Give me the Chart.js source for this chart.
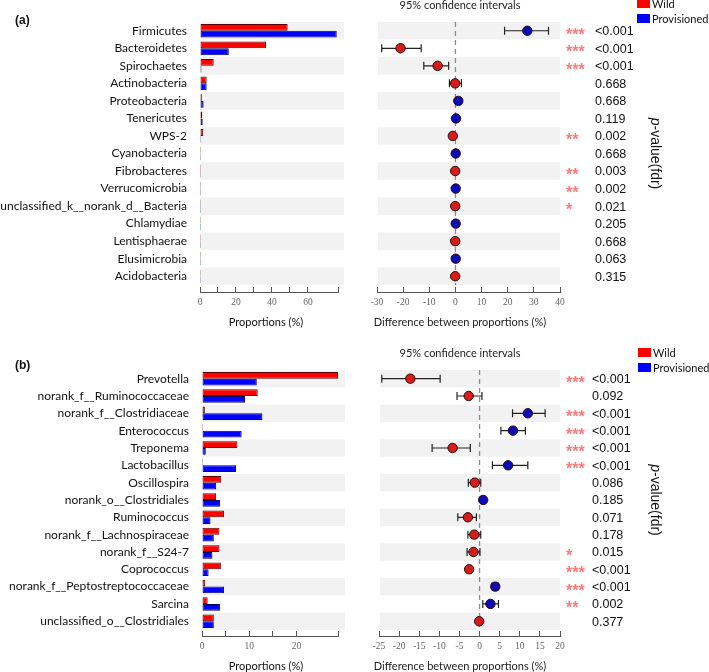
<!DOCTYPE html>
<html>
<head>
<meta charset="utf-8">
<title>Wild vs provisioned - extended error bar plots</title>
<script src="https://cdn.jsdelivr.net/npm/chart.js@4.4.1/dist/chart.umd.min.js"></script>
<style>
  html, body { margin: 0; padding: 0; background: #fff; }
  body { position: relative; width: 709px; height: 672px; overflow: hidden; }
  canvas { position: absolute; }
</style>
</head>
<body>
<canvas id="barA" width="360" height="336" style="left:0;top:0"></canvas>
<canvas id="diffA" width="349" height="336" style="left:360px;top:0"></canvas>
<canvas id="barB" width="360" height="336" style="left:0;top:344px"></canvas>
<canvas id="diffB" width="349" height="336" style="left:360px;top:344px"></canvas>
<script>
// ===================== (a) phylum level =====================
var phylumNames = ["Firmicutes", "Bacteroidetes", "Spirochaetes", "Actinobacteria", "Proteobacteria",
  "Tenericutes", "WPS-2", "Cyanobacteria", "Fibrobacteres", "Verrucomicrobia",
  "unclassified_k__norank_d__Bacteria", "Chlamydiae", "Lentisphaerae", "Elusimicrobia", "Acidobacteria"];
var phylumWild = [48.7, 36.7, 7.6, 3.7, 1.0, 1.3, 1.8, 0.5, 0.4, 0.2, 0.4, 0.2, 0.3, 0.1, 0.1];
var phylumProv = [76.0, 16.0, 0.8, 3.7, 2.0, 1.5, 0.6, 0.5, 0.1, 0.3, 0.1, 0.3, 0.1, 0.2, 0.05];
var phylumDiff = [27.5, -21.0, -6.8, -0.1, 1.1, 0.2, -1.0, 0.1, -0.1, 0.1, -0.1, 0.1, -0.1, 0.1, -0.1];
var phylumLow = [18.8, -28.2, -12.1, -2.3, 0.3, -0.3, -1.8, -0.2, -0.4, -0.2, -0.4, -0.2, -0.3, -0.1, -0.2];
var phylumHigh = [35.6, -13.1, -2.6, 2.3, 1.9, 0.7, -0.3, 0.4, 0.2, 0.4, 0.2, 0.4, 0.1, 0.3, 0.1];
var phylumStars = ["***", "***", "***", "", "", "", "**", "", "**", "**", "*", "", "", "", ""];
var phylumP = ["<0.001", "<0.001", "<0.001", "0.668", "0.668", "0.119", "0.002", "0.668",
  "0.003", "0.002", "0.021", "0.205", "0.668", "0.063", "0.315"];

// ===================== (b) genus level =====================
var genusNames = ["Prevotella", "norank_f__Ruminococcaceae", "norank_f__Clostridiaceae", "Enterococcus",
  "Treponema", "Lactobacillus", "Oscillospira", "norank_o__Clostridiales", "Ruminococcus",
  "norank_f__Lachnospiraceae", "norank_f__S24-7", "Coprococcus", "norank_f__Peptostreptococcaceae",
  "Sarcina", "unclassified_o__Clostridiales"];
var genusWild = [28.8, 11.8, 0.6, 0.1, 7.5, 0.1, 4.1, 3.0, 4.65, 3.7, 3.7, 4.0, 0.7, 1.2, 2.5];
var genusProv = [11.6, 9.1, 12.8, 8.4, 0.8, 7.2, 3.0, 3.8, 1.8, 2.5, 2.2, 1.4, 4.65, 3.8, 2.5];
var genusDiff = [-17.2, -2.7, 12.0, 8.3, -6.7, 7.1, -1.2, 0.9, -2.9, -1.3, -1.5, -2.6, 3.9, 2.7, -0.1];
var genusLow = [-24.3, -5.6, 8.2, 5.3, -11.8, 3.2, -2.8, 0.3, -5.4, -2.9, -3.1, -3.2, 3.1, 0.8, -0.4];
var genusHigh = [-9.8, 0.6, 16.3, 11.4, -2.3, 12.0, 0.3, 1.5, -0.8, 0.3, 0.1, -2.0, 4.7, 4.7, 0.3];
var genusStars = ["***", "", "***", "***", "***", "***", "", "", "", "", "*", "***", "***", "**", ""];
var genusP = ["<0.001", "0.092", "<0.001", "<0.001", "<0.001", "<0.001", "0.086", "0.185",
  "0.071", "0.178", "0.015", "<0.001", "<0.001", "0.002", "0.377"];

var RED = "#ff0000", BLUE = "#0000ff";
var DOT_RED = "#d81c1c", DOT_BLUE = "#0b0bb8";

// light grey band behind every other row
var stripePlugin = {
  id: "stripes",
  beforeDraw: function (chart, args, opts) {
    var y = chart.scales.y, area = chart.chartArea, c = chart.ctx;
    c.save();
    c.fillStyle = "#f2f2f2";
    for (var i = 0; i < opts.rows; i += 2) {
      var t = y.getPixelForValue(i - 0.5), b = y.getPixelForValue(i + 0.5);
      c.fillRect(area.left + 1, t, area.right - area.left - 1 + opts.extra, b - t);
    }
    c.restore();
  }
};

function barText(tag, tagY) {
  return {
    id: "barText",
    afterDraw: function (chart) {
      var c = chart.ctx;
      c.save();
      c.fillStyle = "#111";
      c.textBaseline = "middle";
      c.textAlign = "left";
      c.font = "bold 12px 'Liberation Sans'";
      c.fillText(tag, 15, tagY);
      c.font = "11px Lato";
      c.textAlign = "center";
      c.fillText("Proportions (%)", 266, 322);
      c.restore();
    }
  };
}

function barChart(id, names, wild, prov, p) {
  return new Chart(document.getElementById(id).getContext("2d"), {
    type: "bar",
    data: {
      datasets: [
        {
          label: "Wild",
          data: names.map(function (n, i) { return { x: wild[i], y: i }; }),
          backgroundColor: RED, borderColor: "#5c0000", borderWidth: 1, borderSkipped: false,
          categoryPercentage: 0.78, barPercentage: 1, minBarLength: 1
        },
        {
          label: "Provisioned",
          data: names.map(function (n, i) { return { x: prov[i], y: i }; }),
          backgroundColor: BLUE, borderColor: "#00005c", borderWidth: 1, borderSkipped: false,
          categoryPercentage: 0.78, barPercentage: 1, minBarLength: 1
        }
      ]
    },
    options: {
      indexAxis: "y",
      responsive: false,
      animation: false,
      events: [],
      layout: { padding: { top: p.top, right: 360 - p.right, left: 0, bottom: 0 } },
      plugins: {
        legend: { display: false },
        tooltip: { enabled: false },
        stripes: { rows: names.length, extra: p.extra }
      },
      scales: {
        y: {
          type: "linear", reverse: true, offset: false, min: -0.5, max: p.yMax,
          afterBuildTicks: function (axis) {
            axis.ticks = names.map(function (n, i) { return { value: i }; });
          },
          afterFit: function (axis) {
            axis.width = p.left;
            axis.paddingTop = 0;
            axis.paddingBottom = 0;
          },
          ticks: {
            autoSkip: false, padding: 5, color: "#111",
            font: { family: "Lato", size: 12 },
            callback: function (v) { return names[v]; }
          },
          grid: { display: false, offset: false },
          border: { display: false }
        },
        x: {
          type: "linear", min: 0, max: p.xMax,
          afterFit: function (axis) {
            axis.height = 44;
            axis.paddingLeft = 0;
            axis.paddingRight = 0;
          },
          ticks: {
            stepSize: p.step, autoSkip: false, maxRotation: 0, padding: 10, color: "#666",
            font: { family: "Liberation Serif", size: 9.5 },
            callback: function (v) { return v % p.labelEvery === 0 ? v : ""; }
          },
          grid: { drawOnChartArea: false, tickLength: -5, color: "#555" },
          border: { color: "#555" }
        }
      }
    },
    plugins: [stripePlugin, barText(p.tag, p.tagY)]
  });
}

function diffText(low, high, stars, pvals, p) {
  return {
    id: "diffText",
    beforeDatasetsDraw: function (chart) {
      var c = chart.ctx, x = chart.scales.x, y = chart.scales.y;
      c.save();
      // zero line
      c.strokeStyle = "#8c8c8c";
      c.lineWidth = 1.3;
      c.setLineDash([5, 4]);
      c.beginPath();
      c.moveTo(x.getPixelForValue(0), y.getPixelForValue(-0.5));
      c.lineTo(x.getPixelForValue(0), y.getPixelForValue(low.length - 0.5));
      c.stroke();
      c.setLineDash([]);
      // 95% CI whiskers
      c.strokeStyle = "#222";
      c.lineWidth = 1.2;
      for (var i = 0; i < low.length; i++) {
        var yy = y.getPixelForValue(i), x1 = x.getPixelForValue(low[i]), x2 = x.getPixelForValue(high[i]);
        c.beginPath();
        c.moveTo(x1, yy); c.lineTo(x2, yy);
        c.moveTo(x1, yy - 4); c.lineTo(x1, yy + 4);
        c.moveTo(x2, yy - 4); c.lineTo(x2, yy + 4);
        c.stroke();
      }
      c.restore();
    },
    afterDraw: function (chart) {
      var c = chart.ctx, y = chart.scales.y;
      c.save();
      c.textBaseline = "alphabetic";
      c.textAlign = "left";
      for (var i = 0; i < pvals.length; i++) {
        var yy = y.getPixelForValue(i);
        c.fillStyle = "#ff7b7b";
        c.font = "bold 16px 'Liberation Sans'";
        if (stars[i]) c.fillText(stars[i], 206, yy + 9);
        c.fillStyle = "#111";
        c.font = "12.5px 'Liberation Sans'";
        c.textBaseline = "middle";
        c.fillText(pvals[i], p.pX, yy + 1);
        c.textBaseline = "alphabetic";
      }
      // titles
      c.fillStyle = "#222";
      c.textBaseline = "middle";
      c.textAlign = "center";
      c.font = "11px Lato";
      c.fillText("95% confidence intervals", 100, p.titleY);
      c.fillText("Difference between proportions (%)", 100, 322);
      // legend
      c.textAlign = "left";
      c.fillStyle = RED;
      c.fillRect(p.legX, p.legY, 13, 9);
      c.fillStyle = BLUE;
      c.fillRect(p.legX, p.legY + 15, 13, 9);
      c.fillStyle = "#111";
      c.font = "11px Lato";
      c.fillText("Wild", p.legX + 15, p.legY + 5);
      c.fillText("Provisioned", p.legX + 15, p.legY + 20);
      // rotated y label
      var cy = (y.getPixelForValue(-0.5) + y.getPixelForValue(pvals.length - 0.5)) / 2;
      c.translate(295, cy);
      c.rotate(Math.PI / 2);
      c.font = "italic 14px 'Liberation Sans'";
      var w1 = c.measureText("p").width;
      c.font = "14px 'Liberation Sans'";
      var w2 = c.measureText("-value(fdr)").width;
      var x0 = -(w1 + w2) / 2;
      c.fillStyle = "#111";
      c.font = "italic 14px 'Liberation Sans'";
      c.fillText("p", x0, 0);
      c.font = "14px 'Liberation Sans'";
      c.fillText("-value(fdr)", x0 + w1, 0);
      c.restore();
    }
  };
}

function diffChart(id, diff, low, high, stars, pvals, p) {
  return new Chart(document.getElementById(id).getContext("2d"), {
    type: "scatter",
    data: {
      datasets: [{
        data: diff.map(function (v, i) { return { x: v, y: i }; }),
        pointRadius: 4.7,
        pointBorderWidth: 1,
        pointBorderColor: "#2a0a0a",
        pointBackgroundColor: diff.map(function (v) { return v < 0 ? DOT_RED : DOT_BLUE; })
      }]
    },
    options: {
      responsive: false,
      animation: false,
      events: [],
      layout: { padding: { top: p.top, left: p.left - 360, right: 709 - p.right, bottom: 0 } },
      plugins: {
        legend: { display: false },
        tooltip: { enabled: false },
        stripes: { rows: diff.length, extra: 0 }
      },
      scales: {
        y: { type: "linear", display: false, reverse: true, min: -0.5, max: p.yMax },
        x: {
          type: "linear", min: p.xMin, max: p.xMax,
          afterFit: function (axis) {
            axis.height = 44;
            axis.paddingLeft = 0;
            axis.paddingRight = 0;
          },
          ticks: {
            stepSize: p.step, autoSkip: false, maxRotation: 0, padding: 10, color: "#666",
            font: { family: "Liberation Serif", size: 9.5 }
          },
          grid: { drawOnChartArea: false, tickLength: -5, color: "#555" },
          border: { color: "#555" }
        }
      }
    },
    plugins: [stripePlugin, diffText(low, high, stars, pvals, p)]
  });
}

barChart("barA", phylumNames, phylumWild, phylumProv,
  { top: 22, left: 200, right: 338, yMax: 14.9, xMax: 76.7, step: 10, labelEvery: 20, extra: 6, tag: "(a)", tagY: 21 });
diffChart("diffA", phylumDiff, phylumLow, phylumHigh, phylumStars, phylumP,
  { top: 22, left: 377, right: 560, yMax: 14.9, xMin: -30, xMax: 40, step: 10, pX: 235, titleY: 5, legX: 277, legY: -1 });

barChart("barB", genusNames, genusWild, genusProv,
  { top: 26, left: 202, right: 338, yMax: 14.85, xMax: 28.8, step: 5, labelEvery: 10, extra: 7, tag: "(b)", tagY: 22 });
diffChart("diffB", genusDiff, genusLow, genusHigh, genusStars, genusP,
  { top: 26, left: 379, right: 560, yMax: 14.85, xMin: -25, xMax: 20, step: 5, pX: 232, titleY: 9, legX: 278, legY: 4 });
</script>
</body>
</html>
